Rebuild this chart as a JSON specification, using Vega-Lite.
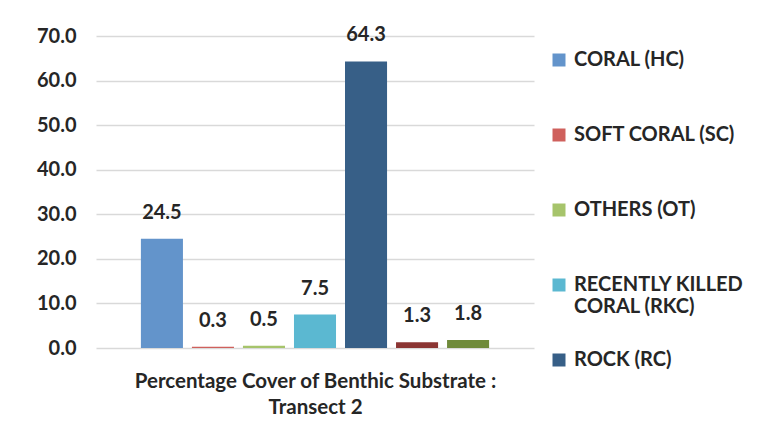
{
  "$schema": "https://vega.github.io/schema/vega-lite/v6.json",
  "width": 438,
  "height": 312,
  "padding": {"left": 36, "top": 25, "right": 5, "bottom": 5},
  "background": "white",
  "config": {
    "font": "Lato",
    "view": {"stroke": null},
    "text": {"font": "Lato"}
  },
  "data": {
    "values": [
      {"cat": "CORAL (HC)", "value": 24.5},
      {"cat": "SOFT CORAL (SC)", "value": 0.3},
      {"cat": "OTHERS (OT)", "value": 0.5},
      {"cat": "RECENTLY KILLED CORAL (RKC)", "value": 7.5},
      {"cat": "ROCK (RC)", "value": 64.3},
      {"cat": "RUBBLE (RB)", "value": 1.3},
      {"cat": "SAND (SD)", "value": 1.8}
    ]
  },
  "encoding": {
    "x": {
      "field": "cat",
      "type": "nominal",
      "sort": null,
      "scale": {"paddingInner": 0.176, "paddingOuter": 0.88},
      "axis": {
        "labels": false,
        "ticks": false,
        "domain": false,
        "labelPadding": 0,
        "title": ["Percentage Cover of Benthic Substrate :", "Transect 2"],
        "titleFont": "Lato",
        "titleFontSize": 20.5,
        "titleFontWeight": "bold",
        "titleColor": "#262626",
        "titlePadding": 23,
        "titleLineHeight": 26
      }
    },
    "y": {
      "field": "value",
      "type": "quantitative",
      "scale": {"domain": [0, 70]},
      "axis": {
        "values": [0, 10, 20, 30, 40, 50, 60, 70],
        "format": ".1f",
        "title": null,
        "domain": false,
        "ticks": false,
        "labelPadding": 20,
        "labelFont": "Lato",
        "labelFontSize": 20,
        "labelFontWeight": "bold",
        "labelColor": "#262626",
        "gridColor": "#d9d9d9",
        "gridWidth": 1.5
      }
    }
  },
  "layer": [
    {
      "mark": {"type": "bar"},
      "encoding": {
        "color": {
          "field": "cat",
          "type": "nominal",
          "sort": null,
          "scale": {
            "domain": ["CORAL (HC)", "SOFT CORAL (SC)", "OTHERS (OT)", "RECENTLY KILLED CORAL (RKC)", "ROCK (RC)", "RUBBLE (RB)", "SAND (SD)"],
            "range": ["#6394cb", "#cf605c", "#a6c46b", "#5bb8d1", "#375f87", "#8b3533", "#6f8a3a"]
          },
          "legend": {
            "values": ["CORAL (HC)", "SOFT CORAL (SC)", "OTHERS (OT)", "RECENTLY KILLED CORAL (RKC)", "ROCK (RC)"],
            "title": null,
            "orient": "none",
            "legendX": 453,
            "legendY": 14,
            "gridAlign": "all",
            "symbolType": "square",
            "symbolSize": 169,
            "symbolStrokeWidth": 0,
            "labelFont": "Lato",
            "labelFontSize": 20,
            "labelFontWeight": "bold",
            "labelColor": "#262626",
            "labelOffset": 5,
            "labelLimit": 300,
            "rowPadding": 33,
            "labelExpr": "datum.label == 'RECENTLY KILLED CORAL (RKC)' ? ['RECENTLY KILLED', 'CORAL (RKC)'] : datum.label"
          }
        }
      }
    },
    {
      "mark": {
        "type": "text",
        "baseline": "bottom",
        "dy": -16,
        "font": "Lato",
        "fontSize": 20,
        "fontWeight": "bold",
        "color": "#262626"
      },
      "encoding": {
        "text": {"field": "value", "type": "quantitative", "format": ".1f"}
      }
    }
  ]
}
